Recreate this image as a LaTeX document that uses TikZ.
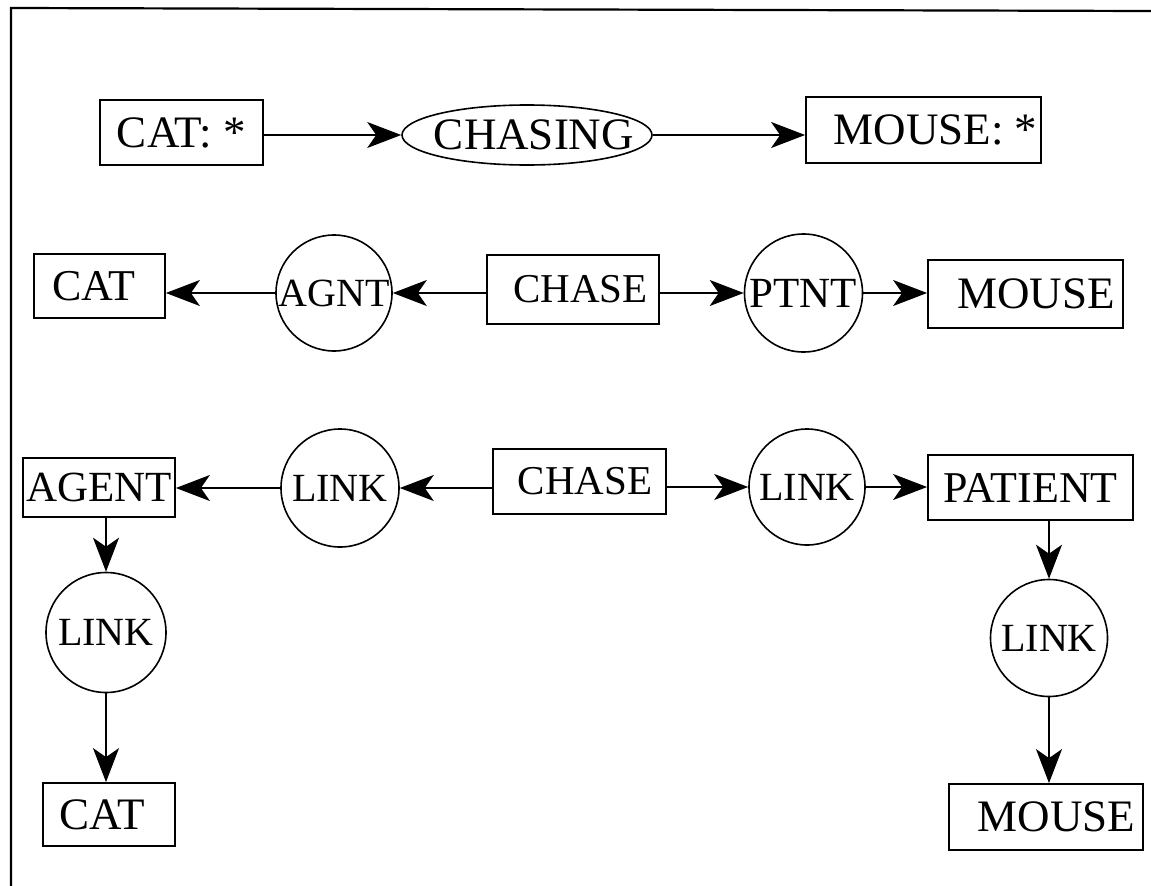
\documentclass[tikz,border=0pt]{standalone}
\usepackage{fontspec}
\setmainfont{Liberation Serif}
\usetikzlibrary{arrows.meta,shapes.geometric}
\begin{document}
\begin{tikzpicture}[x=1pt,y=-1pt,
  concept/.style={draw, rectangle, line width=1.8pt, inner sep=0pt,
                  font=\fontsize{44}{44}\selectfont},
  relation/.style={draw, circle, line width=1.6pt, inner sep=-25pt,
                   font=\fontsize{40}{40}\selectfont},
  act/.style={draw, ellipse, line width=1.6pt, inner sep=-40pt,
              minimum width=250pt, minimum height=60pt,
              font=\fontsize{45}{45}\selectfont},
  link/.style={line width=1.4pt, -{Stealth[length=34pt,width=26pt,inset=9pt]}},
  frame/.style={line width=2.2pt}]

\useasboundingbox (0,0) rectangle (1151,886);

% page frame
\draw[frame] (1151,11) -- (11,8) -- (11,886);

% linear form: [CAT: *] -> (CHASING) -> [MOUSE: *]
\node[concept, minimum width=163pt, minimum height=65pt, font=\fontsize{45}{45}\selectfont] (cat1) at (181.5,132.5) {CAT: *};
\node[act] (chasing) at (527,135) {\hspace*{14pt}CHASING};
\node[concept, minimum width=235pt, minimum height=66pt, font=\fontsize{45}{45}\selectfont] (mouse1) at (923.5,130) {\hspace*{24pt}MOUSE: *};

% conceptual graph with case relations
\node[concept, minimum width=131pt, minimum height=64pt] (cat2) at (99.5,286) {CAT\hspace*{11pt}};
\node[relation, minimum size=116pt] (agnt) at (334,293) {AGNT};
\node[concept, minimum width=172pt, minimum height=69pt, font=\fontsize{41}{41}\selectfont] (chase2) at (573,289.5) {\hspace*{15pt}CHASE};
\node[relation, minimum size=118pt, font=\fontsize{43}{43}\selectfont] (ptnt) at (803.5,293) {PTNT};
\node[concept, minimum width=195pt, minimum height=68pt, font=\fontsize{45}{45}\selectfont] (mouse2) at (1025.5,294) {\hspace*{21pt}MOUSE};

% expanded graph with LINK relations
\node[concept, minimum width=152pt, minimum height=59pt, font=\fontsize{43}{43}\selectfont] (agent) at (99,487.5) {AGENT};
\node[relation, minimum size=118pt] (link1) at (340,488) {LINK};
\node[concept, minimum width=173pt, minimum height=65pt, font=\fontsize{41}{41}\selectfont] (chase3) at (579.5,481.5) {\hspace*{11pt}CHASE};
\node[relation, minimum size=116pt] (link2) at (807,487) {LINK};
\node[concept, minimum width=205pt, minimum height=65pt] (patient) at (1030.5,487.5) {PATIENT};

\node[relation, minimum size=120pt] (link3) at (106,632.5) {LINK};
\node[concept, minimum width=132pt, minimum height=63pt, font=\fontsize{45}{45}\selectfont] (cat3) at (109,814.5) {CAT\hspace*{14pt}};
\node[relation, minimum size=117pt] (link4) at (1049,638) {LINK};
\node[concept, minimum width=194pt, minimum height=66pt, font=\fontsize{45}{45}\selectfont] (mouse3) at (1046,817) {\hspace*{21pt}MOUSE};

% connectors
\draw[link] (chasing.west -| cat1.east) -- (chasing.west);
\draw[link] (chasing.east) -- (chasing.east -| mouse1.west);

\draw[link] (chase2.west |- agnt.east) -- (agnt.east);
\draw[link] (agnt.west) -- (agnt.west -| cat2.east);
\draw[link] (chase2.east |- ptnt.west) -- (ptnt.west);
\draw[link] (ptnt.east) -- (ptnt.east -| mouse2.west);

\draw[link] (chase3.west |- link1.east) -- (link1.east);
\draw[link] (link1.west) -- (link1.west -| agent.east);
\draw[link] (chase3.east |- link2.west) -- (link2.west);
\draw[link] (link2.east) -- (link2.east -| patient.west);

\draw[link] (link3.north |- agent.south) -- (link3.north);
\draw[link] (link3.south) -- (link3.south |- cat3.north);
\draw[link] (link4.north |- patient.south) -- (link4.north);
\draw[link] (link4.south) -- (link4.south |- mouse3.north);
\end{tikzpicture}
\end{document}
